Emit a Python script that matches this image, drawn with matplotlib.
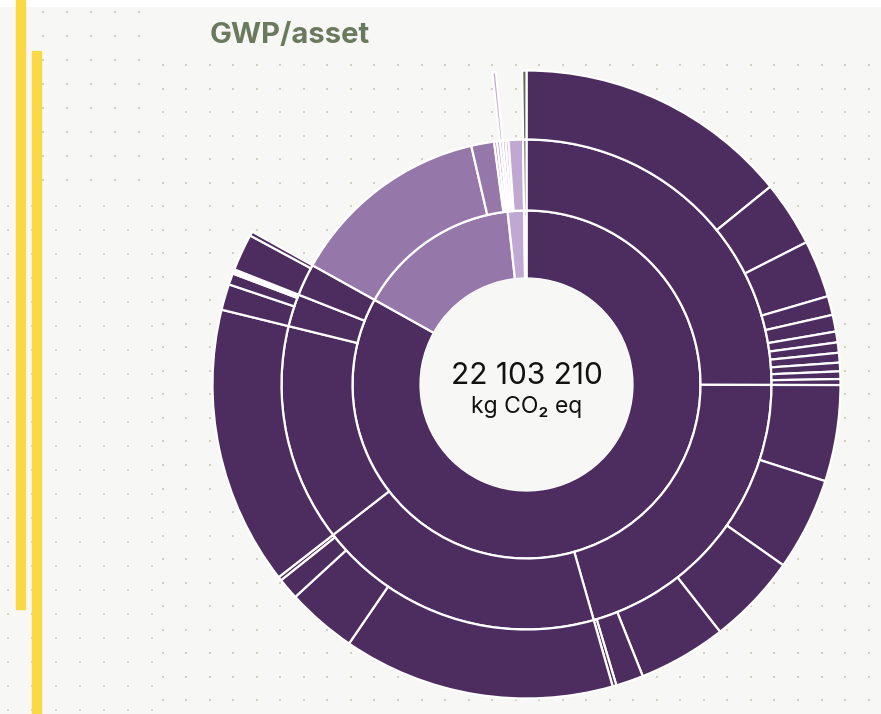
import matplotlib.pyplot as plt
import numpy as np
from matplotlib.patches import Wedge, Circle, Rectangle

# ---- data (kg CO2 eq) ----
TOTAL_KG = 22103210
UNIT = "kg CO\u2082 eq"
TITLE = "GWP/asset"

# level 1 groups and their colours (children inherit the colour)
level1_names = ["A", "B", "C", "D"]
level1_colors = ["#4d2d5f", "#9677a9", "#c1a8d3", "#5d6e4e"]

# level 2: parent group, own value (0 = value comes from children)
level2_parent = [0, 0, 0, 0, 0, 0, 1, 1, 1, 1, 2, 2, 2, 2, 3]
level2_own = [0, 0, 0, 0, 0, 0, 2935000, 332000, 42000, 42000,
              0, 42000, 42000, 210000, 0]

# level 3: parent level-2 node, value
level3_parent = [0] * 11 + [1] * 6 + [2] * 4 + [3] + [4] * 4 + [5] * 2 + [10] + [14]
level3_value = [3125000, 743000, 651000, 215000, 190000, 123000, 117000, 111000, 98000, 86000, 68000,
                1093000, 1056000, 1031000, 1001000, 313000, 43000,
                3088000, 798000, 246000, 43000,
                3168000,
                295000, 129000, 25000, 25000,
                418000, 49000,
                40000,
                49000]

# ---- layout ----
W, H = 881, 714
CX, CY = 526.5, 384.5
RADII = [106, 174, 245, 314]
BG = "#f7f7f5"
DOT = "#d5d0bd"
YELLOW = "#fbd846"
EDGE_W = 1.6

fig = plt.figure(figsize=(W / 100, H / 100), dpi=100)
fig.patch.set_facecolor(BG)
ax = fig.add_axes([0, 0, 1, 1])
ax.set_xlim(0, W)
ax.set_ylim(H, 0)
ax.axis("off")

# white strip on top
ax.add_patch(Rectangle((0, 0), W, 6, color="white", zorder=0))

# dotted backgrounds
def dots(x0, x1, y0, y1, step):
    gx, gy = np.meshgrid(np.arange(x0, x1, step), np.arange(y0, y1, step))
    ax.scatter(gx.ravel(), gy.ravel(), s=2.4, color=DOT, marker="s", linewidths=0, zorder=1)

dots(43, 150, 12, 190, 24)
dots(8, 158, 206, H, 24)
dots(162.7, W, 65, H, 23.53)

# yellow bars
ax.add_patch(Rectangle((16, 0), 9, 609, color=YELLOW, zorder=2))
ax.add_patch(Rectangle((32, 51), 9, H - 51, color=YELLOW, zorder=2))

# ---- sunburst ----
level3_value = np.array(level3_value, dtype=float)
level2_value = np.array(level2_own, dtype=float)
for p, v in zip(level3_parent, level3_value):
    level2_value[p] += v
level1_value = np.zeros(len(level1_names))
for p, v in zip(level2_parent, level2_value):
    level1_value[p] += v
deg = 360.0 / level1_value.sum()


def ring(values, parents, parent_start, level, colors):
    starts = []
    offset = {}
    for i, v in enumerate(values):
        p = parents[i] if parents is not None else None
        s = parent_start[p] + offset.get(p, 0.0) if p is not None else sum(values[:i]) * deg
        offset[p] = offset.get(p, 0.0) + v * deg
        starts.append(s)
        a1, a2 = s, s + v * deg
        ax.add_patch(Wedge((CX, CY), RADII[level + 1], a1 - 90, a2 - 90,
                           width=RADII[level + 1] - RADII[level],
                           facecolor=colors[i], edgecolor="white", linewidth=EDGE_W, zorder=3))
    return starts


l1_start = ring(level1_value, None, None, 0, level1_colors)
l2_colors = [level1_colors[p] for p in level2_parent]
l2_start = ring(level2_value, level2_parent, l1_start, 1, l2_colors)
l3_colors = [l2_colors[p] for p in level3_parent]
ring(level3_value, level3_parent, l2_start, 2, l3_colors)

ax.add_patch(Circle((CX, CY), RADII[0] - 0.5, color=BG, zorder=4))

# ---- texts ----
fam = ["Inter", "DejaVu Sans"]
ax.text(290, 35, TITLE, ha="center", va="center", fontsize=21, fontweight="bold",
        color="#6b7a5e", family=fam, zorder=5)
ax.text(CX, 376, f"{TOTAL_KG:,}".replace(",", " "), ha="center", va="center",
        fontsize=21.5, color="#111111", family=fam, zorder=5)
ax.text(CX, 407, UNIT, ha="center", va="center", fontsize=16.5, color="#111111",
        family=fam, zorder=5)

fig.savefig("out.png", dpi=100, facecolor=BG)
